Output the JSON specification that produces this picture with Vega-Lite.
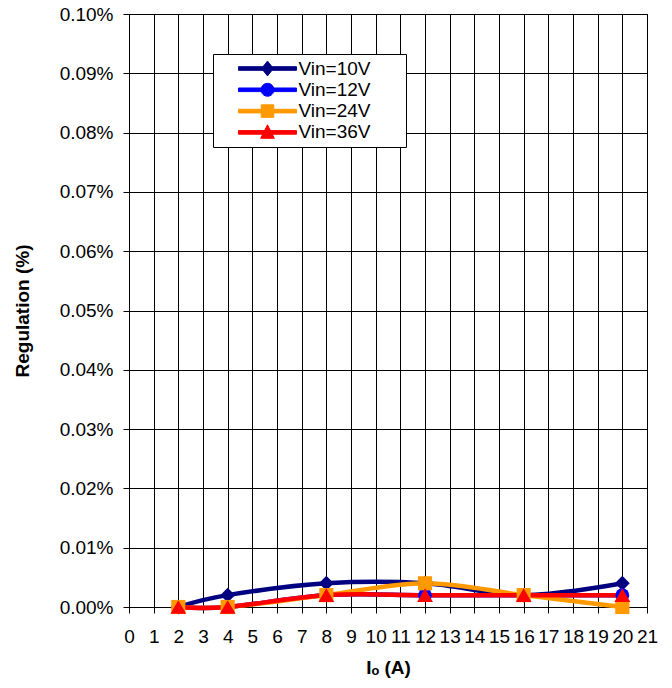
{
  "$schema": "https://vega.github.io/schema/vega-lite/v6.json",
  "width": 518,
  "height": 593,
  "autosize": {"type": "none"},
  "padding": {"left": 129, "top": 14, "right": 25, "bottom": 81},
  "background": "white",
  "config": {
    "font": "Liberation Sans",
    "view": {"stroke": "#000000", "strokeWidth": 1},
    "axis": {
      "gridColor": "#000000", "gridOpacity": 1, "gridWidth": 1,
      "domainColor": "#000000", "tickColor": "#000000", "tickSize": 6,
      "labelFont": "Liberation Sans", "labelFontSize": 19, "labelColor": "#000000",
      "titleFont": "Liberation Sans", "titleFontSize": 19, "titleFontWeight": "bold", "titleColor": "#000000",
      "labelOverlap": false, "labelFlush": false, "labelBound": false
    }
  },
  "data": {
    "values": [
      {"series": "Vin=10V", "io": 2, "reg": 0},
      {"series": "Vin=10V", "io": 4, "reg": 0.00002},
      {"series": "Vin=10V", "io": 8, "reg": 0.00004},
      {"series": "Vin=10V", "io": 12, "reg": 0.00004},
      {"series": "Vin=10V", "io": 16, "reg": 0.00002},
      {"series": "Vin=10V", "io": 20, "reg": 0.00004},
      {"series": "Vin=12V", "io": 2, "reg": 0},
      {"series": "Vin=12V", "io": 4, "reg": 0},
      {"series": "Vin=12V", "io": 8, "reg": 0.00002},
      {"series": "Vin=12V", "io": 12, "reg": 0.00002},
      {"series": "Vin=12V", "io": 16, "reg": 0.00002},
      {"series": "Vin=12V", "io": 20, "reg": 0.00002},
      {"series": "Vin=24V", "io": 2, "reg": 0},
      {"series": "Vin=24V", "io": 4, "reg": 0},
      {"series": "Vin=24V", "io": 8, "reg": 0.00002},
      {"series": "Vin=24V", "io": 12, "reg": 0.00004},
      {"series": "Vin=24V", "io": 16, "reg": 0.00002},
      {"series": "Vin=24V", "io": 20, "reg": 0},
      {"series": "Vin=36V", "io": 2, "reg": 0},
      {"series": "Vin=36V", "io": 4, "reg": 0},
      {"series": "Vin=36V", "io": 8, "reg": 0.00002},
      {"series": "Vin=36V", "io": 12, "reg": 0.00002},
      {"series": "Vin=36V", "io": 16, "reg": 0.00002},
      {"series": "Vin=36V", "io": 20, "reg": 0.00002}
    ]
  },
  "encoding": {
    "x": {
      "field": "io", "type": "quantitative",
      "scale": {"domain": [0, 21], "nice": false, "zero": false},
      "axis": {
        "values": [0,1,2,3,4,5,6,7,8,9,10,11,12,13,14,15,16,17,18,19,20,21],
        "title": "Iₒ (A)", "labelPadding": 14, "titlePadding": 12
      }
    },
    "y": {
      "field": "reg", "type": "quantitative",
      "scale": {"domain": [0, 0.001], "nice": false},
      "axis": {
        "values": [0, 0.0001, 0.0002, 0.0003, 0.0004, 0.0005, 0.0006, 0.0007, 0.0008, 0.0009, 0.001],
        "format": ".2%", "title": "Regulation (%)", "labelPadding": 10, "titlePadding": 27
      }
    }
  },
  "layer": [
    {
      "mark": {"type": "line", "interpolate": "cardinal", "strokeWidth": 4.5},
      "encoding": {
        "color": {
          "field": "series", "type": "nominal",
          "scale": {"domain": ["Vin=10V", "Vin=12V", "Vin=24V", "Vin=36V"], "range": ["#000080", "#0000FF", "#FF9900", "#FF0000"]},
          "legend": {
            "orient": "none", "legendX": 84, "legendY": 40, "title": null,
            "direction": "vertical", "padding": 4.5, "fillColor": "white", "strokeColor": "black",
            "symbolSize": 361, "symbolStrokeWidth": 1, "symbolOffset": 40, "labelOffset": 21,
            "labelFont": "Liberation Sans", "labelFontSize": 19, "labelColor": "black", "rowPadding": 1.3,
            "encode": {
              "symbols": {
                "update": {
                  "shape": {"signal": "datum.value == 'Vin=10V' ? 'M-3.05,-0.19H3.05V0.19H-3.05ZM0,-0.78L0.62,0L0,0.78L-0.62,0ZM13.85,0' : datum.value == 'Vin=12V' ? 'M-0.68,0A0.68,0.68,0,1,1,0.68,0A0.68,0.68,0,1,1,-0.68,0ZM-3.05,-0.19H3.05V0.19H-3.05ZM13.85,0' : datum.value == 'Vin=24V' ? 'M-3.05,-0.19H3.05V0.19H-3.05ZM-0.66,-0.66H0.66V0.66H-0.66ZM13.85,0' : 'M-3.05,-0.19H3.05V0.19H-3.05ZM0,-0.8L0.72,0.62L-0.72,0.62ZM13.85,0'"},
                  "fill": {"signal": "scale('color', datum.value)"},
                  "stroke": {"signal": "scale('color', datum.value)"},
                  "strokeWidth": {"value": 1},
                  "opacity": {"value": 1},
                  "fillOpacity": {"value": 1}
                }
              }
            }
          }
        }
      }
    },
    {
      "transform": [{"filter": "datum.series == 'Vin=10V'"}],
      "mark": {"type": "point", "filled": true, "opacity": 1, "size": 220, "shape": "diamond", "color": "#000080"}
    },
    {
      "transform": [{"filter": "datum.series == 'Vin=12V'"}],
      "mark": {"type": "point", "filled": true, "opacity": 1, "size": 190, "shape": "circle", "color": "#0000FF"}
    },
    {
      "transform": [{"filter": "datum.series == 'Vin=24V'"}],
      "mark": {"type": "point", "filled": true, "opacity": 1, "size": 200, "shape": "square", "color": "#FF9900"}
    },
    {
      "transform": [{"filter": "datum.series == 'Vin=36V'"}],
      "mark": {"type": "point", "filled": true, "opacity": 1, "size": 250, "shape": "triangle-up", "color": "#FF0000"}
    }
  ]
}
